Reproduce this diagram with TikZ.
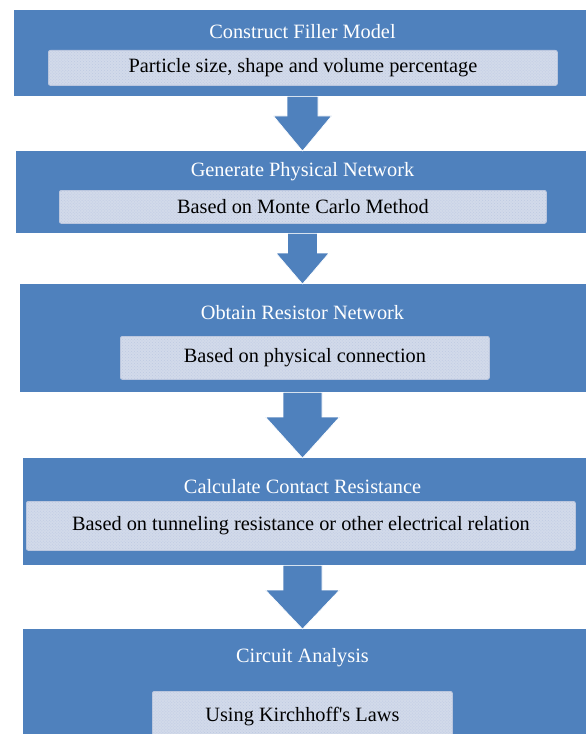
\documentclass[tikz,border=0pt]{standalone}
\usepackage{fontspec}
\setmainfont{Liberation Serif}
\usetikzlibrary{calc,patterns}
\definecolor{boxblue}{RGB}{79,129,189}
\definecolor{innerfill}{RGB}{210,218,234}
\definecolor{innerdot}{RGB}{190,201,226}
\definecolor{inneredge}{RGB}{186,198,222}
\newcommand{\flowarrow}[5]{%
  \path[flowfill] ($(axis|-#1.south)+(-#3,0)$) -- ($(axis|-#1.south)+(#3,0)$)
    -- ($(axis|-#2.north)+(#3,-#5)$) -- ($(axis|-#2.north)+(#4,-#5)$)
    -- (axis|-#2.north)
    -- ($(axis|-#2.north)+(-#4,-#5)$) -- ($(axis|-#2.north)+(-#3,-#5)$) -- cycle;}
\begin{document}
\begin{tikzpicture}[x=1bp,y=-1bp,
  outerbox/.style={fill=boxblue, draw=none, inner sep=0pt, anchor=north west},
  innerbox/.style={fill=innerfill, draw=inneredge, line width=0.8bp, rounded corners=2bp,
    inner sep=0pt, anchor=north west, text=black, font=\fontsize{20.4}{24}\selectfont,
    postaction={pattern=crosshatch dots, pattern color=innerdot}},
  titletext/.style={text=white, inner sep=0pt, font=\fontsize{20.4}{24}\selectfont},
  flowfill/.style={fill=boxblue, draw=white, line width=0.6bp}]
\useasboundingbox (0,0) rectangle (586,734);
\clip (0,0) rectangle (586,734);
\fill[white] (0,0) rectangle (586,734);
\coordinate (axis) at (302.5,0);
% outer boxes
\node[outerbox, minimum width=576bp, minimum height=86bp] (b1) at (14,10) {};
\node[outerbox, minimum width=574bp, minimum height=82bp] (b2) at (16,151) {};
\node[outerbox, minimum width=570bp, minimum height=108bp] (b3) at (20,284) {};
\node[outerbox, minimum width=567bp, minimum height=107bp] (b4) at (23,458) {};
\node[outerbox, minimum width=567bp, minimum height=111bp] (b5) at (23,629) {};
% titles
\node[titletext] (t1) at (302.5,32) {Construct Filler Model};
\node[titletext] (t2) at (302.5,172) {Generate Physical Network};
\node[titletext] (t3) at (302.5,313) {Obtain Resistor Network};
\node[titletext] (t4) at (302.5,487) {Calculate Contact Resistance};
\node[titletext] (t5) at (302.5,658) {Circuit Analysis};
% inner boxes
\node[innerbox, minimum width=509bp, minimum height=35bp] (i1) at (48,50) {Particle size, shape and volume percentage};
\node[innerbox, minimum width=487bp, minimum height=33bp] (i2) at (59,190) {Based on Monte Carlo Method};
\node[innerbox, minimum width=369bp, minimum height=43bp] (i3) at (120,336) {Based on physical connection};
\node[innerbox, minimum width=549bp, minimum height=49bp] (i4) at (26,501) {Based on tunneling resistance or other electrical relation};
\node[innerbox, minimum width=300bp, minimum height=50bp] (i5) at (152,691) {Using Kirchhoff\textquotesingle s Laws};
% arrows
\flowarrow{b1}{b2}{15.5}{29}{35}
\flowarrow{b2}{b3}{15}{26.5}{31}
\flowarrow{b3}{b4}{19.5}{37}{41}
\flowarrow{b4}{b5}{19.5}{37}{39}
\end{tikzpicture}
\end{document}
